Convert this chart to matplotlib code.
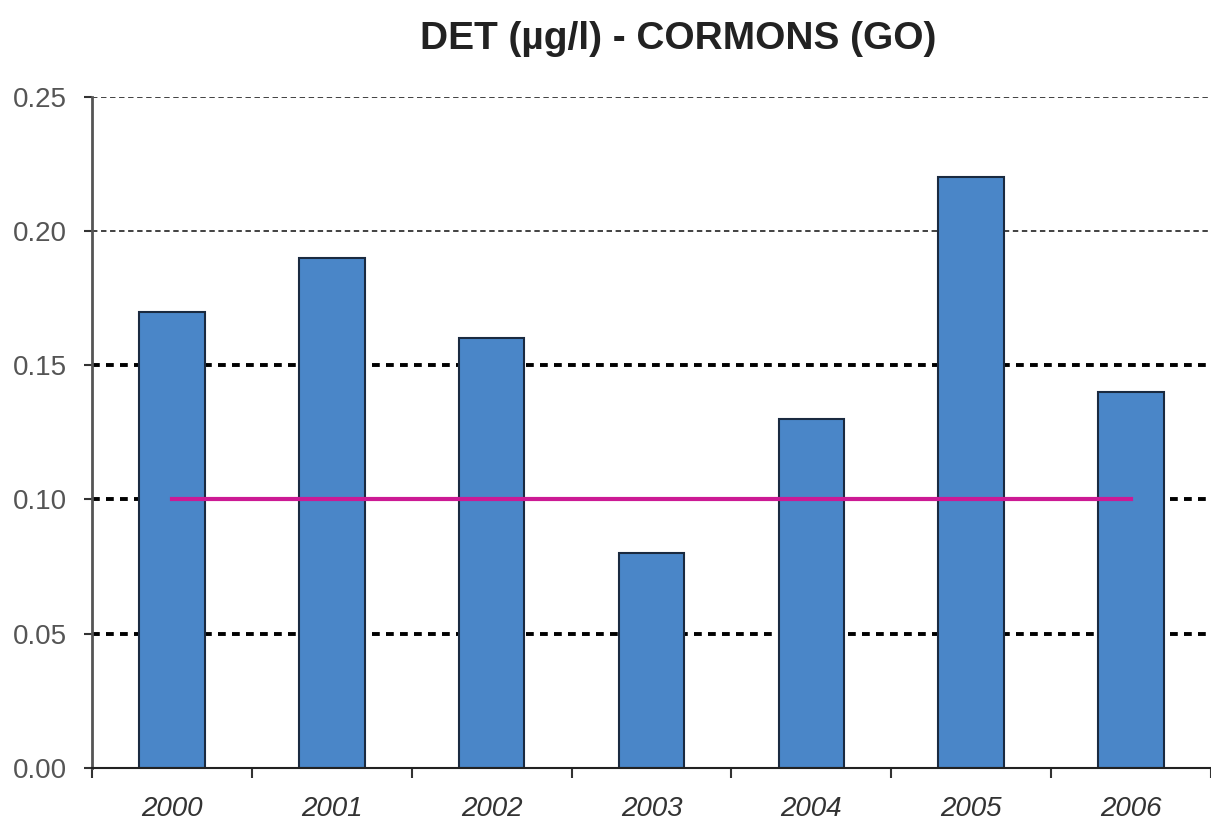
import numpy as np
import matplotlib.pyplot as plt

plt.rcParams['font.family'] = ['Liberation Sans', 'DejaVu Sans']

years = ["2000", "2001", "2002", "2003", "2004", "2005", "2006"]
values = [0.17, 0.19, 0.16, 0.08, 0.13, 0.22, 0.14]
limit = 0.10
light_grid = [0.20, 0.25]
heavy_grid = [0.05, 0.10, 0.15]

fig = plt.figure(figsize=(12.11, 8.21), dpi=100)
ax = fig.add_axes([0.076, 0.0646, 0.924, 0.8176])

x = np.arange(len(years))

for g in light_grid:
    ax.axhline(g, color="#333333", lw=1.3, ls=(0, (3, 2)), zorder=1)
for g in heavy_grid:
    ax.axhline(g, color="black", lw=2.8, ls=(0, (2, 1.6)), zorder=1)

ax.bar(x, values, width=0.41, color="#4A86C8", edgecolor="#1a2a40", lw=1.5, zorder=2)
ax.plot([x[0], x[-1]], [limit, limit], color="#CC1A94", lw=3, zorder=3)

ax.set_xlim(-0.5, len(years) - 0.5)
ax.set_ylim(0, 0.25)
ax.set_yticks([0.0, 0.05, 0.10, 0.15, 0.20, 0.25])
ax.set_yticklabels(["0.00", "0.05", "0.10", "0.15", "0.20", "0.25"],
                   fontsize=20, color="#555555")
ax.set_xticks(x)
ax.set_xticklabels(years, fontsize=20, style="italic", color="#333333")
ax.tick_params(axis="x", length=0, pad=20)
ax.set_xticks(np.arange(-0.5, len(years)), minor=True)
ax.tick_params(axis="x", which="minor", length=7, width=1.5, color="#333333")
ax.tick_params(axis="y", length=6, width=1.5, color="#333333", pad=12)

for s in ["top", "right"]:
    ax.spines[s].set_visible(False)
ax.spines["left"].set_color("#555555")
ax.spines["left"].set_linewidth(2)
ax.spines["bottom"].set_color("#222222")
ax.spines["bottom"].set_linewidth(1.5)

fig.suptitle("DET (µg/l) - CORMONS (GO)", x=0.56, y=0.975, fontsize=28,
             fontweight="bold", color="#222222")

fig.savefig("out.png", dpi=100)
